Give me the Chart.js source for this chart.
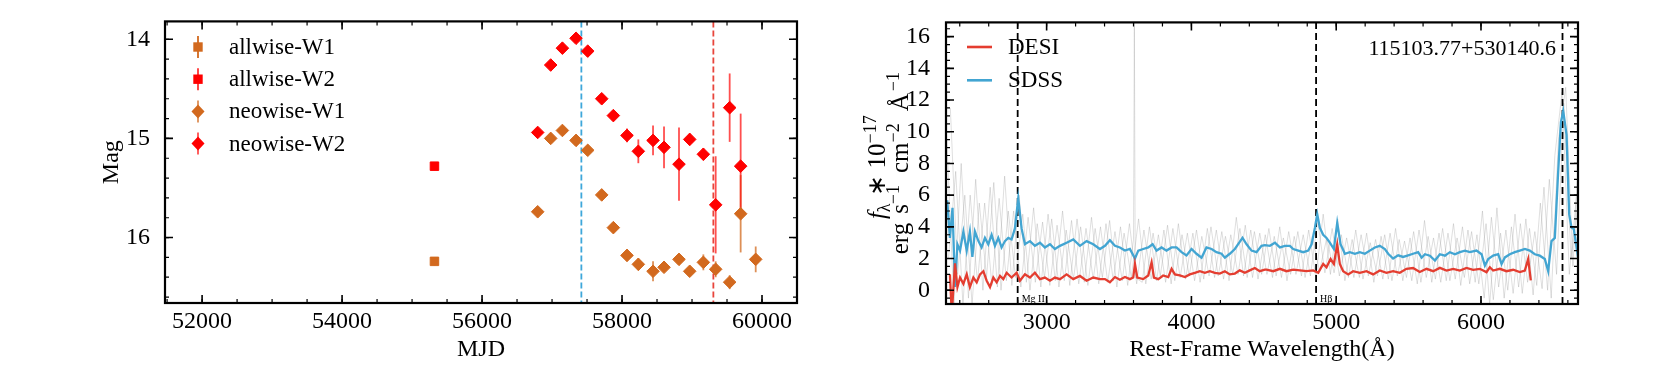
<!DOCTYPE html>
<html>
<head>
<meta charset="utf-8">
<title>WISE light curve and spectra</title>
<script src="https://cdn.jsdelivr.net/npm/chart.js@4.4.1/dist/chart.umd.min.js"></script>
<style>
  body { margin: 0; background: #fff; }
  #wrap { position: relative; width: 1661px; height: 380px; }
  #c1 { position: absolute; left: 0; top: 0; }
  #c2 { position: absolute; left: 830px; top: 0; }
</style>
</head>
<body>
<div id="wrap">
  <canvas id="c1" width="830" height="380"></canvas>
  <canvas id="c2" width="831" height="380"></canvas>
</div>
<script>
// ---------- left panel: WISE light curve ----------
const allwiseMJD = [55320];
const allwiseW1 = [16.24];
const allwiseW1Err = [0.04];
const allwiseW2 = [15.28];
const allwiseW2Err = [0.04];

const neoW2MJD = [56795, 56981, 57148, 57343, 57510, 57710, 57876, 58071, 58233, 58443, 58600, 58814, 58967, 59162, 59338, 59538, 59695];
const neoW2 = [14.94, 14.26, 14.09, 13.99, 14.12, 14.60, 14.77, 14.97, 15.13, 15.02, 15.09, 15.26, 15.01, 15.16, 15.67, 14.69, 15.28];
const neoW2Err = [0.05, 0.02, 0.02, 0.02, 0.02, 0.02, 0.02, 0.07, 0.12, 0.15, 0.21, 0.37, 0.06, 0.06, 0.49, 0.345, 0.53];

const neoW1MJD = [56795, 56981, 57148, 57343, 57510, 57710, 57876, 58071, 58233, 58443, 58600, 58814, 58967, 59162, 59338, 59538, 59695, 59910];
const neoW1 = [15.74, 15.00, 14.92, 15.02, 15.12, 15.57, 15.90, 16.18, 16.27, 16.34, 16.30, 16.22, 16.34, 16.25, 16.32, 16.45, 15.76, 16.22];
const neoW1Err = [0.05, 0.02, 0.02, 0.02, 0.02, 0.02, 0.02, 0.06, 0.06, 0.10, 0.03, 0.03, 0.03, 0.08, 0.08, 0.07, 0.39, 0.13];

const epochMJD = [57419, 59305];   // blue / red dashed lines
const mjdMin = 51470, mjdMax = 60500;
const magMin = 13.82, magMax = 16.66;
const mjdTicks = [52000, 54000, 56000, 58000, 60000];
const magTicks = [14, 15, 16];

// ---------- right panel: spectra ----------
const sdssWave = [2305, 2314, 2332, 2350, 2367, 2384, 2402, 2425, 2448, 2470, 2487, 2505, 2529, 2551, 2574, 2597, 2620, 2643, 2666, 2689,
  2712, 2735, 2758, 2781, 2804, 2827, 2850, 2885, 2919, 2954, 2988, 3023, 3057, 3092, 3138, 3184, 3230, 3276, 3322, 3368,
  3403, 3437, 3472, 3506, 3541, 3575, 3610, 3633, 3667, 3702, 3732, 3759, 3794, 3828, 3863, 3897, 3932, 3966, 4001, 4035,
  4070, 4104, 4139, 4173, 4208, 4231, 4265, 4300, 4330, 4353, 4381, 4415, 4450, 4484, 4508, 4542, 4577, 4611, 4646, 4680,
  4703, 4738, 4772, 4807, 4830, 4853, 4869, 4887, 4910, 4933, 4956, 4984, 5007, 5030, 5060, 5094, 5129, 5163, 5198, 5232,
  5267, 5301, 5336, 5359, 5393, 5428, 5462, 5497, 5531, 5566, 5590, 5613, 5647, 5682, 5716, 5751, 5785, 5820, 5854, 5889,
  5923, 5969, 6004, 6027, 6050, 6084, 6119, 6142, 6165, 6199, 6234, 6268, 6303, 6337, 6372, 6406, 6441, 6464, 6487, 6510,
  6533, 6552, 6568, 6591, 6609, 6625, 6641, 6670];
const sdssFlux = [5.6, 5.6, 3.3, 5.2, 0.2, 2.9, 2.5, 3.7, 2.5, 3.7, 2.1, 3.7, 3.1, 2.7, 3.3, 2.9, 3.5, 2.8, 3.3, 2.7,
  3.1, 3.3, 3.2, 3.9, 5.8, 3.9, 2.9, 3.1, 2.8, 3.0, 2.7, 2.9, 2.6, 2.8, 3.0, 3.2, 2.8, 3.1, 2.9, 2.6,
  2.8, 3.15, 2.8, 2.7, 2.5, 2.6, 2.0, 2.5, 2.6, 2.7, 2.9, 2.5, 2.7, 2.5, 2.7, 2.7, 2.4, 2.2, 2.6, 2.3,
  2.05, 2.7, 2.6, 2.4, 2.3, 2.05, 2.3, 2.6, 3.0, 3.3, 2.9, 2.5, 2.4, 2.8, 2.85, 2.8, 3.0, 2.7, 2.8, 2.8,
  2.6, 2.5, 2.4, 2.5, 2.9, 3.94, 4.8, 3.94, 3.5, 3.3, 3.0, 2.6, 4.25, 2.9, 2.3, 2.4, 2.3, 2.4, 2.3, 2.5,
  2.7, 2.8, 2.6, 2.3, 2.0, 2.2, 2.1, 2.2, 2.3, 2.4, 2.05, 2.27, 2.18, 1.87, 2.27, 2.18, 2.4, 2.27, 2.4, 2.5,
  2.4, 2.5, 2.27, 1.55, 1.97, 2.18, 2.27, 1.65, 2.07, 2.27, 2.4, 2.5, 2.6, 2.5, 2.27, 2.18, 1.97, 1.2, 3.1, 3.3,
  7.46, 10.6, 11.3, 9.8, 4.8, 3.96, 3.86, 2.07];

const desiWave = [2332, 2345, 2367, 2384, 2402, 2425, 2448, 2470, 2494, 2517, 2540, 2563, 2586, 2609, 2632, 2655, 2678, 2701, 2724, 2758,
  2793, 2816, 2850, 2885, 2919, 2954, 2988, 3023, 3057, 3092, 3138, 3184, 3230, 3276, 3322, 3368, 3403, 3437, 3472, 3506,
  3541, 3575, 3598, 3610, 3626, 3667, 3702, 3725, 3741, 3771, 3805, 3840, 3863, 3886, 3920, 3955, 3989, 4024, 4058, 4093,
  4127, 4162, 4196, 4231, 4265, 4300, 4334, 4369, 4403, 4438, 4472, 4507, 4519, 4565, 4611, 4657, 4703, 4749, 4795, 4841,
  4876, 4910, 4933, 4961, 4984, 5007, 5025, 5048, 5083, 5117, 5163, 5209, 5255, 5301, 5347, 5393, 5439, 5485, 5531, 5577,
  5624, 5670, 5716, 5762, 5808, 5854, 5900, 5946, 5992, 6038, 6061, 6084, 6130, 6176, 6222, 6268, 6303, 6326, 6344];
const desiFlux = [1.0, -1.5, 1.7, 0.2, 0.8, 0.4, 1.0, 0.2, 0.8, 0.5, 1.0, 1.2, 0.6, 0.2, 0.8, 0.5, 0.9, 0.7, 1.1, 0.8,
  1.1, 0.6, 1.0, 0.8, 1.1, 0.7, 0.8, 0.6, 0.8, 0.7, 1.0, 0.7, 0.9, 0.6, 0.8, 0.7, 0.7, 0.5, 0.83, 0.66,
  0.83, 0.7, 0.8, 1.66, 0.8, 0.7, 0.93, 1.76, 0.8, 0.7, 0.93, 0.83, 1.35, 1.0, 0.93, 0.83, 1.0, 1.1, 1.2, 1.1,
  1.2, 1.1, 1.05, 1.2, 1.0, 1.05, 1.25, 1.1, 1.25, 1.4, 1.2, 1.3, 1.3, 1.2, 1.35, 1.2, 1.3, 1.25, 1.2, 1.25,
  1.1, 1.66, 1.45, 1.97, 1.66, 2.9, 1.66, 1.2, 1.0, 1.2, 1.1, 1.2, 1.0, 1.25, 1.1, 1.2, 1.1, 1.35, 1.4, 1.15,
  1.35, 1.2, 1.41, 1.24, 1.35, 1.24, 1.41, 1.29, 1.35, 1.14, 1.45, 1.24, 1.35, 1.2, 1.29, 1.14, 1.24, 1.97, 0.62];

// raw (unsmoothed) spectra, read as the envelope of the grey band
const rawWaveA = [2310, 2360, 2410, 2460, 2510, 2560, 2610, 2660, 2710, 2760, 2810, 2860, 2910, 2960, 3010, 3060, 3110, 3160, 3210, 3260,
  3310, 3360, 3410, 3460, 3510, 3560, 3600, 3606, 3612, 3660, 3710, 3760, 3810, 3860, 3910, 3960, 4010, 4060, 4110, 4160, 4210, 4260,
  4310, 4360, 4410, 4460, 4510, 4560, 4610, 4660, 4710, 4760, 4810, 4860, 4910, 4960, 5010, 5060, 5110, 5160, 5210, 5260,
  5310, 5360, 5410, 5460, 5510, 5560, 5610, 5660, 5710, 5760, 5810, 5860, 5910, 5960, 6010, 6060, 6110, 6160, 6210, 6260,
  6310, 6360, 6410, 6460, 6510, 6560, 6610, 6660];
const rawFluxA = [9.5, -0.9, 8.0, -0.5, 7.0, 0.0, 6.5, 0.2, 7.2, 0.3, 6.0, 0.5, 5.2, 0.2, 4.8, 0.6, 5.0, 0.3, 4.5, 0.5,
  4.6, 0.4, 4.2, 0.6, 4.0, 0.3, 3.2, 16.9, 0.8, 0.5, 4.0, 0.6, 3.8, 0.4, 4.2, 0.7, 3.6, 0.5, 3.9, 0.8, 3.7, 0.6,
  4.6, 0.9, 3.8, 0.7, 3.5, 0.8, 4.0, 0.6, 3.4, 0.9, 3.8, 0.8, 4.8, 1.0, 4.5, 0.6, 3.2, 0.8, 3.6, 0.5,
  3.4, 0.7, 3.9, 0.6, 3.3, 0.4, 4.4, 0.5, 3.6, 0.6, 4.2, 0.3, 3.8, 0.5, 5.0, -0.9, 5.2, -0.5, 4.0, 0.2,
  4.5, -0.3, 5.5, 0.0, 8.5, 12.5, 1.0, 6.0];
const rawWaveB = [2335, 2385, 2435, 2485, 2535, 2585, 2635, 2685, 2735, 2785, 2835, 2885, 2935, 2985, 3035, 3085, 3135, 3185, 3235, 3285,
  3335, 3385, 3435, 3485, 3535, 3585, 3635, 3685, 3735, 3785, 3835, 3885, 3935, 3985, 4035, 4085, 4135, 4185, 4235, 4285,
  4335, 4385, 4435, 4485, 4535, 4585, 4635, 4685, 4735, 4785, 4835, 4885, 4935, 4985, 5035, 5085, 5135, 5185, 5235, 5285,
  5335, 5385, 5435, 5485, 5535, 5585, 5635, 5685, 5735, 5785, 5835, 5885, 5935, 5985, 6035, 6085, 6135, 6185, 6235, 6285,
  6335, 6385, 6435, 6485, 6535, 6585, 6635, 6665];
const rawFluxB = [11.5, 1.0, 6.0, -0.9, 5.5, 0.8, 6.8, 0.0, 5.0, 0.8, 4.8, 0.0, 4.2, 0.8, 4.5, 0.2, 3.8, 0.7, 4.0, 0.3,
  3.9, 0.8, 4.4, 0.2, 3.6, 0.8, 4.5, 0.4, 3.6, 0.9, 4.1, 0.6, 3.5, 0.9, 3.8, 0.7, 4.0, 0.9, 3.4, 1.0,
  3.9, 0.8, 3.7, 1.0, 3.9, 0.9, 3.3, 1.0, 3.7, 0.8, 3.4, 1.2, 3.3, 1.1, 3.5, 0.8, 3.8, 0.7, 3.0, 0.9,
  3.5, 0.6, 3.2, 0.8, 3.7, 0.5, 3.4, 0.7, 3.9, 0.6, 3.3, 0.8, 3.7, 0.4, 4.2, -0.6, 3.6, 0.0, 4.8, -0.2,
  3.9, 0.3, 6.5, -0.5, 9.5, 12.8, 1.5, 7.0];
const rawWaveC = [2322, 2372, 2422, 2472, 2522, 2572, 2622, 2672, 2722, 2772, 2822, 2872, 2922, 2972, 3022, 3072, 3122, 3172, 3222, 3272,
  3322, 3372, 3422, 3472, 3522, 3572, 3622, 3672, 3722, 3772, 3822, 3872, 3922, 3972, 4022, 4072, 4122, 4172, 4222, 4272,
  4322, 4372, 4422, 4472, 4522, 4572, 4622, 4672, 4722, 4772, 4822, 4872, 4922, 4972, 5022, 5072, 5122, 5172, 5222, 5272,
  5322, 5372, 5422, 5472, 5522, 5572, 5622, 5672, 5722, 5772, 5822, 5872, 5922, 5972, 6022, 6072, 6122, 6172, 6222, 6272,
  6322, 6372, 6422, 6472, 6522, 6572, 6622, 6665];
const rawFluxC = [2.0, 7.5, -0.9, 6.0, 0.5, 5.5, 0.3, 5.8, 0.6, 5.0, 0.2, 4.6, 0.5, 4.3, 0.3, 4.1, 0.6, 4.4, 0.4, 3.9,
  0.7, 4.0, 0.5, 3.7, 0.6, 4.2, 0.4, 3.8, 0.7, 3.5, 0.5, 3.9, 0.8, 3.6, 0.6, 3.4, 0.9, 3.8, 0.7, 3.5,
  1.0, 4.1, 0.8, 3.6, 1.0, 3.4, 0.8, 3.7, 1.0, 3.5, 0.9, 4.4, 1.1, 3.9, 0.9, 3.3, 0.8, 3.5, 0.9, 3.2,
  0.7, 3.6, 0.9, 3.1, 0.6, 3.8, 0.8, 3.3, 0.5, 3.6, 0.7, 4.0, 0.4, 3.5, -0.5, 4.6, 0.2, 3.8, -0.2, 4.2,
  0.5, 3.7, 0.1, 7.0, 1.0, 11.8, 2.0, 5.0];

const lineWave = [2800, 4861, 6563];
const lineNames = ['Mg II', 'Hβ', ''];
const waveMin = 2305, waveMax = 6670;
const fluxMin = -0.87, fluxMax = 16.9;
const waveTicks = [3000, 4000, 5000, 6000];
const fluxTicks = [0, 2, 4, 6, 8, 10, 12, 14, 16];
const objName = '115103.77+530140.6';

// ---------- helpers ----------
const pts = (xs, ys) => xs.map((x, i) => ({x: x, y: ys[i]}));
const vline = (x, lo, hi) => [{x: x, y: lo}, {x: x, y: hi}];
const fixTicks = vals => s => { s.ticks = vals.map(v => ({value: v})); };

Chart.defaults.font.family = "'Liberation Serif', 'Times New Roman', serif";
Chart.defaults.color = '#000';
Chart.defaults.animation = false;

const SERIF = "'Liberation Serif', 'Times New Roman', serif";
const W1C = '#d2691e', W2C = '#ff0000';
const DESIC = '#e43d30', SDSSC = '#42a5d2';
const GREY = 'rgba(150,150,150,0.3)';

// inward ticks on all four sides + black frame
const frameTicks = {
  id: 'frameTicks',
  afterDatasetsDraw(chart, args, opts) {
    const {ctx, chartArea: a, scales: {x, y}} = chart;
    ctx.save();
    ctx.strokeStyle = '#000';
    const mk = (scale, step) => {
      const out = [];
      for (let v = Math.ceil(scale.min / step) * step; v <= scale.max + 1e-9; v += step) out.push(v);
      return out;
    };
    const drawX = (vals, len, w) => {
      ctx.lineWidth = w; ctx.beginPath();
      vals.forEach(v => {
        const p = x.getPixelForValue(v);
        ctx.moveTo(p, a.bottom); ctx.lineTo(p, a.bottom - len);
        ctx.moveTo(p, a.top); ctx.lineTo(p, a.top + len);
      });
      ctx.stroke();
    };
    const drawY = (vals, len, w) => {
      ctx.lineWidth = w; ctx.beginPath();
      vals.forEach(v => {
        const p = y.getPixelForValue(v);
        ctx.moveTo(a.left, p); ctx.lineTo(a.left + len, p);
        ctx.moveTo(a.right, p); ctx.lineTo(a.right - len, p);
      });
      ctx.stroke();
    };
    drawX(mk(x, opts.xMinor), 4, 1.2);
    drawY(mk(y, opts.yMinor), 4, 1.2);
    drawX(x.ticks.map(t => t.value), 8, 1.6);
    drawY(y.ticks.map(t => t.value), 8, 1.6);
    ctx.lineWidth = 2.2;
    ctx.strokeRect(a.left, a.top, a.right - a.left, a.bottom - a.top);
    ctx.restore();
  }
};

// vertical error bars taken from each dataset's errors array
const errorBars = {
  id: 'errorBars',
  beforeDatasetsDraw(chart) {
    const {ctx, scales: {x, y}} = chart;
    ctx.save();
    chart.data.datasets.forEach(ds => {
      if (!ds.errors) return;
      ctx.strokeStyle = ds.errColor;
      ctx.lineWidth = 1.8;
      ds.data.forEach((p, i) => {
        const e = ds.errors[i];
        const px = x.getPixelForValue(p.x);
        ctx.beginPath();
        ctx.moveTo(px, y.getPixelForValue(p.y - e));
        ctx.lineTo(px, y.getPixelForValue(p.y + e));
        ctx.stroke();
      });
    });
    ctx.restore();
  }
};

// legend of the light curve panel
const lcLegend = {
  id: 'lcLegend',
  afterDraw(chart) {
    const ctx = chart.ctx;
    const items = chart.data.datasets.filter(d => d.errors);
    ctx.save();
    ctx.font = '23px ' + SERIF;
    ctx.textBaseline = 'middle';
    items.forEach((d, i) => {
      const cx = 198, cy = 47 + i * 32.2;
      ctx.strokeStyle = d.errColor; ctx.lineWidth = 1.8;
      ctx.beginPath(); ctx.moveTo(cx, cy - 11); ctx.lineTo(cx, cy + 11); ctx.stroke();
      ctx.fillStyle = d.backgroundColor;
      ctx.beginPath();
      if (d.pointStyle === 'rect') {
        ctx.rect(cx - 4.7, cy - 4.7, 9.4, 9.4);
      } else {
        ctx.moveTo(cx - 6.5, cy); ctx.lineTo(cx, cy - 7); ctx.lineTo(cx + 6.5, cy); ctx.lineTo(cx, cy + 7); ctx.closePath();
      }
      ctx.fill();
      ctx.fillStyle = '#000';
      ctx.fillText(d.label, 229, cy + 1);
    });
    ctx.restore();
  }
};

// rotated label made of pieces: {t, sup, sub, it, gap}
function drawRotLabel(ctx, parts, cx, cy, size) {
  const small = Math.round(size * 0.72);
  const fontOf = p => (p.it ? 'italic ' : '') + (p.sup || p.sub ? small : size) + 'px ' + SERIF;
  let total = 0;
  parts.forEach(p => {
    if (p.gap) { total += p.gap; return; }
    ctx.font = fontOf(p); total += ctx.measureText(p.t).width;
  });
  ctx.save();
  ctx.translate(cx, cy);
  ctx.rotate(-Math.PI / 2);
  ctx.textBaseline = 'alphabetic';
  ctx.fillStyle = '#000';
  let pos = -total / 2;
  parts.forEach(p => {
    if (p.gap) { pos += p.gap; return; }
    ctx.font = fontOf(p);
    const dy = p.sup ? -size * 0.38 : (p.sub ? size * 0.2 : 0);
    ctx.fillText(p.t, pos, size * 0.33 + dy);
    pos += ctx.measureText(p.t).width;
  });
  ctx.restore();
}

// legend, object name, line labels and y title of the spectrum panel
const specText = {
  id: 'specText',
  afterDraw(chart) {
    const {ctx, chartArea: a, scales: {x}} = chart;
    ctx.save();
    ctx.textBaseline = 'middle';
    ctx.font = '23px ' + SERIF;
    [['DESI', DESIC], ['SDSS', SDSSC]].forEach((it, i) => {
      const cy = 47 + i * 33.3;
      ctx.strokeStyle = it[1]; ctx.lineWidth = 2.6;
      ctx.beginPath(); ctx.moveTo(137, cy); ctx.lineTo(162, cy); ctx.stroke();
      ctx.fillStyle = '#000';
      ctx.fillText(it[0], 178, cy + 1);
    });
    ctx.font = '22px ' + SERIF;
    ctx.textAlign = 'right';
    ctx.fillText(objName, 726, 49);
    ctx.textAlign = 'left';
    ctx.font = '10px ' + SERIF;
    ctx.textBaseline = 'alphabetic';
    lineWave.forEach((w, i) => {
      if (lineNames[i]) ctx.fillText(lineNames[i], x.getPixelForValue(w) + 4, a.bottom - 2);
    });
    ctx.restore();
    const mid = (a.top + a.bottom) / 2;
    drawRotLabel(ctx, [{t: 'f', it: true}, {t: 'λ', sub: true}, {gap: 7}, {t: '∗'}, {gap: 7}, {t: '10'}, {t: '−17', sup: true}], 47, mid + 4, 25);
    drawRotLabel(ctx, [{t: 'erg'}, {gap: 9}, {t: 's'}, {t: '−1', sup: true}, {gap: 12}, {t: 'cm'}, {t: '−2', sup: true}, {gap: 12}, {t: 'Å'}, {gap: 2}, {t: '−1', sup: true}], 70, mid, 25);
  }
};

// ---------- light curve chart ----------
new Chart(document.getElementById('c1'), {
  type: 'scatter',
  data: {
    datasets: [
      {label: 'allwise-W1', data: pts(allwiseMJD, allwiseW1), errors: allwiseW1Err, errColor: W1C,
       pointStyle: 'rect', pointRadius: 6, backgroundColor: W1C, borderColor: W1C, borderWidth: 1},
      {label: 'allwise-W2', data: pts(allwiseMJD, allwiseW2), errors: allwiseW2Err, errColor: 'rgba(255,0,0,0.8)',
       pointStyle: 'rect', pointRadius: 6, backgroundColor: W2C, borderColor: W2C, borderWidth: 1},
      {label: 'neowise-W1', data: pts(neoW1MJD, neoW1), errors: neoW1Err, errColor: 'rgba(210,105,30,0.75)',
       pointStyle: 'rectRot', pointRadius: 6.3, backgroundColor: W1C, borderColor: W1C, borderWidth: 1},
      {label: 'neowise-W2', data: pts(neoW2MJD, neoW2), errors: neoW2Err, errColor: 'rgba(255,20,20,0.75)',
       pointStyle: 'rectRot', pointRadius: 6.3, backgroundColor: W2C, borderColor: W2C, borderWidth: 1},
      {label: 'epoch SDSS', data: vline(epochMJD[0], magMin, magMax), showLine: true, pointRadius: 0,
       borderColor: '#3ea7da', borderWidth: 1.8, borderDash: [6, 3]},
      {label: 'epoch DESI', data: vline(epochMJD[1], magMin, magMax), showLine: true, pointRadius: 0,
       borderColor: '#e8453c', borderWidth: 1.8, borderDash: [6, 3]}
    ]
  },
  options: {
    responsive: false,
    layout: {padding: {left: 0, right: 33, top: 19, bottom: 0}},
    plugins: {legend: {display: false}, tooltip: {enabled: false}, frameTicks: {xMinor: 500, yMinor: 0.2}},
    scales: {
      x: {
        type: 'linear', min: mjdMin, max: mjdMax, bounds: 'data',
        grid: {display: false}, border: {display: false},
        afterBuildTicks: fixTicks(mjdTicks),
        ticks: {autoSkip: false, maxRotation: 0, padding: -1, font: {size: 24, lineHeight: 1}, callback: v => String(v)},
        title: {display: true, text: 'MJD', font: {size: 24}, padding: {top: 0, bottom: 16}},
        afterFit: s => { s.height = 77; }
      },
      y: {
        type: 'linear', reverse: true, min: magMin, max: magMax, bounds: 'data',
        grid: {display: false}, border: {display: false},
        afterBuildTicks: fixTicks(magTicks),
        ticks: {autoSkip: false, padding: 7, font: {size: 24}},
        title: {display: true, text: 'Mag', font: {size: 24}, padding: {top: 97, bottom: 0}},
        afterFit: s => { s.width = 165; }
      }
    }
  },
  plugins: [errorBars, frameTicks, lcLegend]
});

// ---------- spectrum chart ----------
new Chart(document.getElementById('c2'), {
  type: 'scatter',
  data: {
    datasets: [
      {label: 'DESI', data: pts(desiWave, desiFlux), showLine: true, pointRadius: 0, borderColor: DESIC, borderWidth: 2.3},
      {label: 'SDSS', data: pts(sdssWave, sdssFlux), showLine: true, pointRadius: 0, borderColor: SDSSC, borderWidth: 2.3},
      {label: 'line1', data: vline(lineWave[0], fluxMin, fluxMax), showLine: true, pointRadius: 0, borderColor: '#000', borderWidth: 1.8, borderDash: [7, 4]},
      {label: 'line2', data: vline(lineWave[1], fluxMin, fluxMax), showLine: true, pointRadius: 0, borderColor: '#000', borderWidth: 1.8, borderDash: [7, 4]},
      {label: 'line3', data: vline(lineWave[2], fluxMin, fluxMax), showLine: true, pointRadius: 0, borderColor: '#000', borderWidth: 1.8, borderDash: [7, 4]},
      {label: 'raw A', data: pts(rawWaveA, rawFluxA), showLine: true, pointRadius: 0, borderColor: GREY, borderWidth: 1},
      {label: 'raw B', data: pts(rawWaveB, rawFluxB), showLine: true, pointRadius: 0, borderColor: GREY, borderWidth: 1},
      {label: 'raw C', data: pts(rawWaveC, rawFluxC), showLine: true, pointRadius: 0, borderColor: GREY, borderWidth: 1}
    ]
  },
  options: {
    responsive: false,
    layout: {padding: {left: 0, right: 83, top: 18, bottom: 0}},
    plugins: {legend: {display: false}, tooltip: {enabled: false}, frameTicks: {xMinor: 200, yMinor: 0.5}},
    scales: {
      x: {
        type: 'linear', min: waveMin, max: waveMax, bounds: 'data',
        grid: {display: false}, border: {display: false},
        afterBuildTicks: fixTicks(waveTicks),
        ticks: {autoSkip: false, maxRotation: 0, padding: -1, font: {size: 24, lineHeight: 1}, callback: v => String(v)},
        title: {display: true, text: 'Rest-Frame Wavelength(Å)', font: {size: 24}, padding: {top: 0, bottom: 16}},
        afterFit: s => { s.height = 76; }
      },
      y: {
        type: 'linear', min: fluxMin, max: fluxMax, bounds: 'data',
        grid: {display: false}, border: {display: false},
        afterBuildTicks: fixTicks(fluxTicks),
        ticks: {autoSkip: false, padding: 8, font: {size: 24}},
        afterFit: s => { s.width = 116; }
      }
    }
  },
  plugins: [frameTicks, specText]
});
</script>
</body>
</html>
